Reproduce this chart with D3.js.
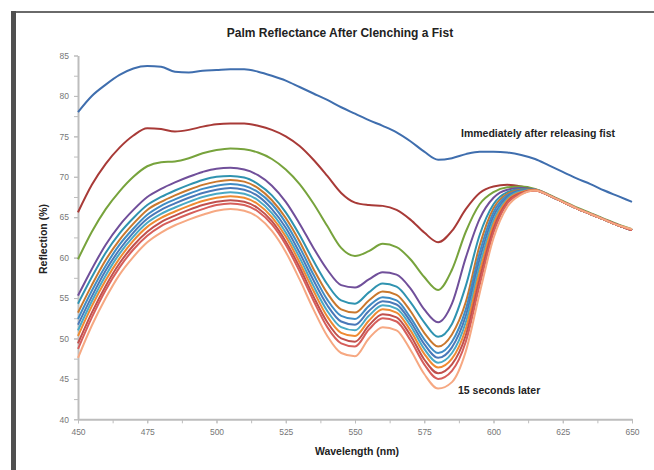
<!DOCTYPE html>
<html>
<head>
<meta charset="utf-8">
<script src="https://cdn.jsdelivr.net/npm/d3@7"></script>
<style>
  body { margin: 0; background: #fff; }
  svg { display: block; font-family: "Liberation Sans", Arial, sans-serif; }
  .tick text { fill: #777; font-size: 8.5px; }
  .domain, .tick line { stroke: #bdbdbd; }
</style>
</head>
<body>
<script>
// wavelength (nm) every 5 nm
var wavelengths = [450,455,460,465,470,475,480,485,490,495,500,505,510,515,520,525,530,535,540,545,
                   550,555,560,565,570,575,580,585,590,595,600,605,610,615,620,625,630,635,640,645,650];

// reflection (%), first = immediately after releasing, last = 15 s later
var s1 = [78.0,80.0,81.4,82.6,83.4,83.7,83.6,83.0,82.9,83.1,83.2,83.3,83.3,83.0,82.5,81.9,81.1,80.3,79.5,78.6,
          77.8,77.0,76.3,75.5,74.4,73.1,72.1,72.3,72.8,73.1,73.1,73.0,72.7,72.2,71.4,70.6,69.8,69.1,68.3,67.6,66.9];
var s2 = [65.6,69.0,71.6,73.6,75.1,76.0,75.9,75.6,75.8,76.2,76.5,76.6,76.6,76.3,75.8,75.0,73.8,72.1,70.1,68.0,
          66.8,66.5,66.4,65.9,64.7,63.1,61.9,63.3,66.0,68.0,68.8,69.0,68.8,68.4,67.7,66.9,66.1,65.4,64.7,64.0,63.4];
var s3 = [59.8,63.2,66.0,68.2,70.0,71.3,71.8,71.9,72.3,72.9,73.3,73.5,73.4,73.0,72.2,70.9,69.1,66.7,63.9,61.2,
          60.2,60.8,61.7,61.3,59.8,57.6,56.0,58.5,63.2,66.6,68.1,68.7,68.8,68.5,67.8,67.0,66.2,65.5,64.8,64.1,63.5];
var s4 = [55.3,58.6,61.6,64.0,65.9,67.5,68.5,69.3,70.0,70.6,71.0,71.1,70.9,70.2,68.9,66.9,64.2,61.2,58.5,56.6,
          56.3,57.3,58.2,57.9,56.2,53.6,52.0,54.3,60.0,64.8,67.4,68.4,68.6,68.4,67.7,66.9,66.1,65.4,64.7,64.0,63.4];
var s5 = [54.3,57.6,60.6,63.0,64.9,66.5,67.5,68.3,69.0,69.6,70.0,70.1,69.9,69.1,67.7,65.6,62.8,59.6,56.7,54.7,
          54.3,55.7,56.8,56.4,54.5,52.0,50.2,51.8,56.5,62.8,66.6,68.1,68.5,68.4,67.7,66.9,66.1,65.4,64.7,64.0,63.4];
var s6 = [53.2,56.6,59.7,62.2,64.2,65.9,66.9,67.7,68.4,69.0,69.4,69.6,69.4,68.6,67.1,64.9,62.0,58.6,55.6,53.6,
          53.2,54.7,55.8,55.4,53.4,50.7,49.0,50.5,54.5,61.5,66.1,67.9,68.4,68.4,67.7,66.9,66.1,65.4,64.7,64.0,63.4];
var s7 = [52.4,55.9,59.0,61.6,63.6,65.3,66.4,67.2,67.9,68.5,68.9,69.1,68.9,68.1,66.6,64.3,61.3,57.9,54.8,52.8,
          52.4,54.0,55.1,54.7,52.6,49.9,48.2,49.6,53.6,60.6,65.6,67.7,68.3,68.4,67.7,66.9,66.1,65.4,64.7,64.0,63.4];
var s8 = [51.7,55.2,58.4,61.0,63.1,64.8,65.9,66.7,67.4,68.0,68.4,68.6,68.4,67.6,66.0,63.7,60.6,57.2,54.1,52.1,
          51.7,53.4,54.6,54.2,52.1,49.3,47.6,48.9,52.8,59.8,65.1,67.5,68.3,68.4,67.7,66.9,66.1,65.4,64.7,64.0,63.4];
var s9 = [51.0,54.6,57.8,60.5,62.6,64.3,65.4,66.2,66.9,67.5,67.9,68.1,67.9,67.1,65.5,63.1,60.0,56.5,53.4,51.4,
          51.0,52.8,54.1,53.7,51.6,48.7,47.0,48.2,52.0,59.0,64.6,67.3,68.2,68.4,67.7,66.9,66.1,65.4,64.7,64.0,63.4];
var s10 = [50.3,54.0,57.2,59.9,62.1,63.8,64.9,65.7,66.4,67.0,67.4,67.6,67.4,66.6,65.0,62.6,59.4,55.9,52.7,50.7,
           50.3,52.2,53.6,53.2,51.0,48.1,46.4,47.5,51.2,58.2,64.1,67.1,68.1,68.4,67.7,66.9,66.1,65.4,64.7,64.0,63.4];
var s11 = [49.4,53.2,56.5,59.3,61.5,63.2,64.4,65.2,65.9,66.5,66.9,67.1,66.9,66.1,64.5,62.0,58.8,55.2,52.0,50.0,
           49.6,51.6,53.0,52.6,50.4,47.4,45.7,46.8,50.4,57.4,63.6,66.9,68.0,68.3,67.7,66.9,66.1,65.4,64.7,64.0,63.4];
var s12 = [48.7,52.6,56.0,58.8,61.0,62.7,63.9,64.7,65.4,66.0,66.5,66.7,66.5,65.7,64.1,61.6,58.3,54.7,51.4,49.4,
           49.0,51.1,52.5,52.1,49.8,46.8,45.0,46.0,49.6,56.6,63.1,66.7,67.9,68.3,67.7,66.9,66.1,65.4,64.7,64.0,63.4];
var s13 = [47.6,51.6,55.0,57.9,60.1,61.9,63.1,64.0,64.7,65.3,65.8,66.0,65.8,65.0,63.3,60.7,57.3,53.6,50.3,48.2,
           47.8,50.0,51.4,51.0,48.6,45.6,43.8,44.6,48.4,55.6,62.4,66.3,67.8,68.3,67.7,66.9,66.1,65.4,64.7,64.0,63.5];

var series = [s1, s2, s3, s4, s5, s6, s7, s8, s9, s10, s11, s12, s13];
var colors = ["#3f6eae", "#a83a37", "#77a33c", "#704f9a", "#2f93b0", "#c9782e", "#3f8cc4",
              "#4a78b8", "#49a9c4", "#ee8a32", "#c0504d", "#d65e5a", "#f6a882"];

var xTicks = [450, 475, 500, 525, 550, 575, 600, 625, 650];
var yTicks = [40, 45, 50, 55, 60, 65, 70, 75, 80, 85];

var w = 654, h = 470;

var svg = d3.select("body").append("svg")
    .attr("width", w)
    .attr("height", h);

// frame (left bar + top rule of the pasted picture)
svg.append("rect").attr("x", 11).attr("y", 11).attr("width", w - 11).attr("height", 2).attr("fill", "#6a6a6a");
svg.append("rect").attr("x", 11).attr("y", 11).attr("width", 5).attr("height", h - 11).attr("fill", "#505050");

var x = d3.scaleLinear().domain([450, 650]).range([78, 632]);
var y = d3.scaleLinear().domain([40, 85]).range([419.3, 55.5]);

// minor ticks
svg.append("g")
    .attr("transform", "translate(0," + y(40) + ")")
    .call(d3.axisBottom(x).tickValues(d3.range(450, 651, 12.5)).tickSize(4).tickFormat(""))
    .call(function(g) { g.select(".domain").remove(); });
svg.append("g")
    .attr("transform", "translate(" + x(450) + ",0)")
    .call(d3.axisLeft(y).tickValues(d3.range(40, 85.1, 2.5)).tickSize(4).tickFormat(""))
    .call(function(g) { g.select(".domain").remove(); });

svg.append("g")
    .attr("transform", "translate(0," + y(40) + ")")
    .call(d3.axisBottom(x).tickValues(xTicks).tickSize(4).tickSizeOuter(0).tickPadding(6).tickFormat(d3.format("d")));
svg.append("g")
    .attr("transform", "translate(" + x(450) + ",0)")
    .call(d3.axisLeft(y).tickValues(yTicks).tickSize(4).tickSizeOuter(0).tickPadding(5));

svg.selectAll(".domain").attr("stroke-width", 2);

var line = d3.line()
    .x(function(d, i) { return x(wavelengths[i]); })
    .y(function(d) { return y(d); })
    .curve(d3.curveMonotoneX);

svg.append("g").selectAll("path")
    .data(series)
  .enter().append("path")
    .attr("d", line)
    .attr("fill", "none")
    .attr("stroke-width", 2)
    .attr("stroke-linejoin", "round")
    .attr("stroke", function(d, i) { return colors[i]; });

svg.append("text")
    .attr("x", 340).attr("y", 37)
    .attr("text-anchor", "middle")
    .attr("font-size", 12).attr("font-weight", "bold").attr("fill", "#222")
    .text("Palm Reflectance After Clenching a Fist");

svg.append("text")
    .attr("x", 357).attr("y", 455)
    .attr("text-anchor", "middle")
    .attr("font-size", 10.5).attr("font-weight", "bold").attr("fill", "#222")
    .text("Wavelength (nm)");

svg.append("text")
    .attr("transform", "translate(47,239) rotate(-90)")
    .attr("text-anchor", "middle")
    .attr("font-size", 10.5).attr("font-weight", "bold").attr("fill", "#222")
    .text("Reflection (%)");

svg.append("text")
    .attr("x", 461).attr("y", 137)
    .attr("font-size", 10.5).attr("font-weight", "bold").attr("fill", "#222")
    .text("Immediately after releasing fist");

svg.append("text")
    .attr("x", 458).attr("y", 394)
    .attr("font-size", 10.5).attr("font-weight", "bold").attr("fill", "#222")
    .text("15 seconds later");
</script>
</body>
</html>
